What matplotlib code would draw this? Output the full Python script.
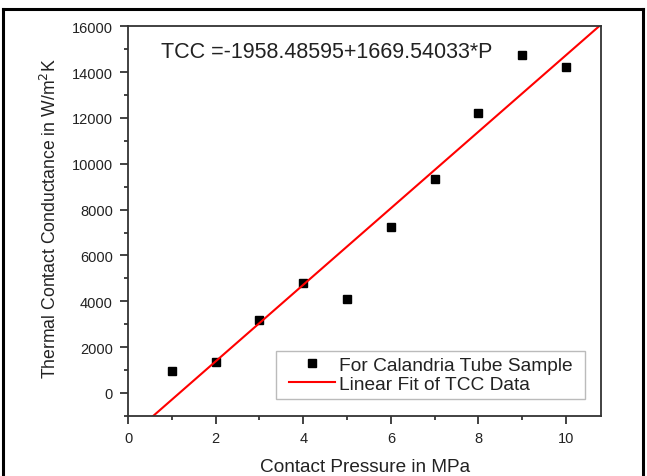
import numpy as np
import matplotlib
matplotlib.use("Agg")
import matplotlib.pyplot as plt
from matplotlib.lines import Line2D
from matplotlib.patches import Rectangle
from matplotlib.ticker import MultipleLocator

plt.rcParams['font.family'] = ['Liberation Sans', 'DejaVu Sans']

# measured data (contact pressure in MPa, TCC in W/m2K)
pressure = [1, 2, 3, 4, 5, 6, 7, 8, 9, 10]
tcc = [950, 1350, 3180, 4790, 4090, 7220, 9350, 12220, 14740, 14220]

# linear fit coefficients
intercept = -1958.48595
slope = 1669.54033

fig = plt.figure(figsize=(6.47, 4.77), dpi=100)
ax = fig.add_axes([0.198, 0.126, 0.731, 0.817])

ax.plot(pressure, tcc, 's', color='black', markersize=6,
        label='For Calandria Tube Sample')
xf = np.array([0, 11])
ax.plot(xf, intercept + slope * xf, color='red', lw=1.5,
        label='Linear Fit of TCC Data')

ax.set_xlim(0, 10.8)
ax.set_ylim(-1000, 16000)
ax.xaxis.set_major_locator(MultipleLocator(2))
ax.xaxis.set_minor_locator(MultipleLocator(1))
ax.yaxis.set_major_locator(MultipleLocator(2000))
ax.yaxis.set_minor_locator(MultipleLocator(1000))
ax.tick_params(which='both', direction='out', labelsize=10.5, colors='#222222')
ax.tick_params(which='major', length=6, width=1.2, pad=5)
ax.tick_params(which='minor', length=3, width=1.2)
for s in ax.spines.values():
    s.set_linewidth(1.3)
    s.set_color('#333333')

ax.set_xlabel('Contact Pressure in MPa', fontsize=13.7, color='#222222', labelpad=9)
ax.set_ylabel('Thermal Contact Conductance in W/m$^2$K', fontsize=12.7,
              color='#222222')
ax.yaxis.set_label_coords(-0.145, 0.51)

ax.text(0.07, 0.935, 'TCC =-1958.48595+1669.54033*P', transform=ax.transAxes,
        fontsize=15.5, color='#222222', va='center')

leg = ax.legend(loc='lower right', bbox_to_anchor=(0.951, 0.044), borderaxespad=0,
                fontsize=13.8, frameon=False,
                handlelength=2.4, borderpad=0.3, labelspacing=0.1,
                handletextpad=0.2, markerscale=0.9)
for t in leg.get_texts():
    t.set_color('#222222')

# legend frame, a bit wider than the legend box on the sides
fig.canvas.draw()
bb = leg.get_window_extent().transformed(fig.transFigure.inverted())
padx = 7 / fig.bbox.width
fig.add_artist(Rectangle((bb.x0 - padx, bb.y0), bb.width + 2 * padx, bb.height,
                         transform=fig.transFigure, facecolor='none',
                         edgecolor='#bbbbbb', lw=1.0))

# outer frame around the figure
kw = dict(transform=fig.transFigure, color='black', lw=2.2)
fig.add_artist(Line2D([0.005, 0.994], [0.979, 0.979], **kw))
fig.add_artist(Line2D([0.005, 0.005], [0.0, 0.979], **kw))
fig.add_artist(Line2D([0.994, 0.994], [0.0, 0.979], **kw))

fig.savefig('out.png', dpi=100)
